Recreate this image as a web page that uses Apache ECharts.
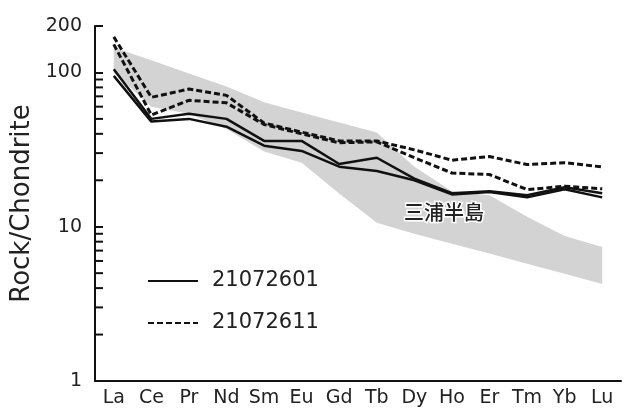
<!DOCTYPE html>
<html>
<head>
<meta charset="utf-8">
<script src="https://cdn.jsdelivr.net/npm/echarts@6/dist/echarts.min.js"></script>
<style>
html,body{margin:0;padding:0;background:#fff;}
#chart{width:625px;height:409px;}
</style>
</head>
<body>
<div id="chart"></div>
<script>
// Chondrite-normalized REE pattern
const elements = ['La','Ce','Pr','Nd','Sm','Eu','Gd','Tb','Dy','Ho','Er','Tm','Yb','Lu'];

// 21072601 (solid lines)
const s01a = [105, 50, 54, 50, 36, 36, 25.5, 28, 20.5, 16.5, 17, 16, 18, 16.5];
const s01b = [95, 48, 50, 44.5, 33.5, 31, 24.5, 23, 20, 16.2, 16.8, 15.5, 17.5, 15.5];

// 21072611 (dashed lines)
const s11a = [170, 69, 78, 71, 47, 41, 36, 36, 31.5, 27, 28.5, 25.3, 26, 24.4];
const s11b = [152, 53, 66, 63.5, 46, 40, 35, 35.5, 28, 22.3, 21.8, 17.4, 18.3, 17.6];

// 三浦半島 field (shaded band)
const bandUpper = [145, 120, 98.5, 81, 64, 55, 47.4, 40.8, 24.5, 17, 16, 11.6, 8.7, 7.4];
const bandLower = [100, 60, 54, 43, 30.7, 26, 16.4, 10.6, 9.0, 7.75, 6.7, 5.75, 4.95, 4.26];

// y-axis minor tick values
const minorTickValues = [2, 3, 4, 5, 6, 7, 8, 9, 20, 30, 40, 50, 60, 70, 80, 90];

const fontLatin = '"DejaVu Sans", Verdana, sans-serif';
const ink = '#111';

const chart = echarts.init(document.getElementById('chart'), null, {renderer: 'canvas'});

const solidStyle = {color: ink, width: 2.5, type: 'solid'};
const dashStyle = {color: ink, width: 3, type: [6, 3]};

function lineSeries(name, data, style, extra) {
  return Object.assign({
    type: 'line',
    name: name,
    data: data,
    symbol: 'none',
    lineStyle: style,
    itemStyle: {color: ink},
    z: 5,
    silent: true
  }, extra || {});
}

const option = {
  animation: false,
  backgroundColor: '#fff',
  grid: {left: 95, right: 4, top: 26, bottom: 28, containLabel: false},
  legend: {
    data: ['21072601', '21072611'],
    orient: 'vertical',
    left: 142,
    top: 264,
    itemWidth: 50,
    itemHeight: 14,
    itemGap: 18,
    itemStyle: {opacity: 0},
    textStyle: {
      fontFamily: fontLatin,
      fontSize: 21,
      color: '#222',
      lineHeight: 24,
      padding: [0, 0, 0, 9]
    }
  },
  xAxis: {
    type: 'category',
    data: elements,
    boundaryGap: true,
    axisLine: {lineStyle: {color: ink, width: 2}},
    axisTick: {inside: true, alignWithLabel: true, length: 5, lineStyle: {color: ink, width: 1.5}},
    axisLabel: {interval: 0, margin: 8, fontFamily: fontLatin, fontSize: 19, color: '#222'},
    splitLine: {show: false}
  },
  yAxis: {
    type: 'log',
    logBase: 10,
    min: 1,
    max: 200,
    interval: 1,
    name: 'Rock/Chondrite',
    nameLocation: 'middle',
    nameGap: 52,
    nameTextStyle: {fontFamily: fontLatin, fontSize: 26, color: '#222'},
    axisLine: {show: true, lineStyle: {color: ink, width: 2}},
    axisTick: {show: true, inside: true, length: 8, lineStyle: {color: ink, width: 2}},
    axisLabel: {
      margin: 13,
      fontFamily: fontLatin,
      fontSize: 19,
      color: '#222',
      formatter: function (v) { return String(Math.round(v)); }
    },
    splitLine: {show: false},
    minorTick: {show: false}
  },
  series: [
    {
      type: 'custom',
      name: 'band',
      silent: true,
      z: 1,
      data: [0],
      renderItem: function (params, api) {
        const pts = [];
        for (let i = 0; i < elements.length; i++) pts.push(api.coord([i, bandUpper[i]]));
        for (let i = elements.length - 1; i >= 0; i--) pts.push(api.coord([i, bandLower[i]]));
        return {type: 'polygon', shape: {points: pts}, style: {fill: '#d3d3d3', stroke: null}};
      }
    },
    {
      type: 'custom',
      name: 'minorTicks',
      silent: true,
      z: 10,
      clip: false,
      data: minorTickValues.map(function (v) { return [0, v]; }),
      renderItem: function (params, api) {
        const y = api.coord([0, api.value(1)])[1];
        const x = params.coordSys.x;
        return {type: 'line', shape: {x1: x, y1: y, x2: x + 8, y2: y}, style: {stroke: ink, lineWidth: 2}};
      }
    },
    lineSeries('21072601', s01a, solidStyle),
    lineSeries('21072601', s01b, solidStyle, {
      markPoint: {
        silent: true,
        symbol: 'circle',
        symbolSize: 0,
        data: [{coord: ['Ho', 12.3], value: 0}],
        label: {
          show: true,
          position: 'inside',
          offset: [-8, 0],
          formatter: '三浦半島',
          fontFamily: '"Noto Sans CJK JP", sans-serif',
          fontSize: 20,
          fontWeight: 500,
          color: '#222',
          textBorderColor: '#fff',
          textBorderWidth: 3
        }
      }
    }),
    lineSeries('21072611', s11a, dashStyle),
    lineSeries('21072611', s11b, dashStyle)
  ]
};

chart.setOption(option);
</script>
</body>
</html>
